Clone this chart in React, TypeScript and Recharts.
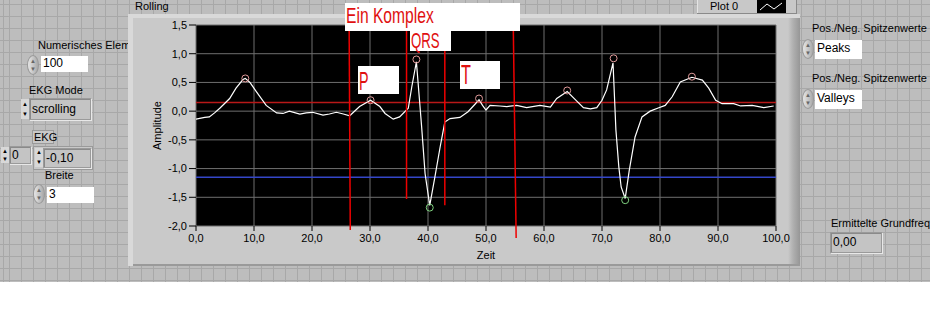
import React from "react"
import { ComposedChart, Line, Scatter, XAxis, YAxis, CartesianGrid, ReferenceLine } from "recharts"

// EKG-Signal (Zeit / Amplitude)
const zeit = [
  0, 1.5, 2.3, 3.2, 4.1, 5.8, 6.9, 8.1, 8.5, 9.3, 10.4, 12.1, 13.9, 15.0, 16.1, 17.9, 19.0, 20.1, 21.9, 23.0,
  24.2, 25.4, 26.5, 28.2, 30.1, 31.7, 32.6, 34.0, 35.1, 36.6, 37.2, 38.0, 38.9, 39.5, 40.3, 41.2, 42.1, 42.9,
  43.8, 45.5, 46.9, 48.1, 48.8, 49.4, 50.0, 50.7, 52.4, 53.6, 55.3, 57.0, 59.3, 61.1, 62.2, 64.0, 65.7, 66.8,
  68.0, 69.1, 70.0, 70.8, 71.9, 72.4, 72.9, 73.3, 74.0, 74.7, 75.7, 76.9, 78.3, 79.8, 80.9, 82.1, 83.5, 85.5,
  87.3, 88.4, 89.6, 90.7, 92.7, 93.9, 95.9, 97.9, 99.6,
]
const amplitude = [
  -0.14, -0.11, -0.1, -0.03, 0.05, 0.22, 0.4, 0.55, 0.57, 0.5, 0.34, 0.1, -0.03, -0.04, 0.0, -0.05, -0.03, -0.02,
  -0.07, -0.05, -0.02, -0.05, -0.08, 0.08, 0.19, 0.08, -0.04, -0.14, -0.1, 0.05, 0.42, 0.86, -0.27, -1.09, -1.64,
  -1.14, -0.62, -0.19, -0.13, -0.11, -0.01, 0.12, 0.2, 0.1, 0.02, 0.1, 0.09, 0.08, 0.1, 0.06, 0.1, 0.07, 0.22,
  0.34, 0.17, 0.06, 0.04, 0.06, 0.19, 0.37, 0.84, -0.33, -0.97, -1.32, -1.52, -1.03, -0.45, -0.1, 0.0, 0.06, 0.1,
  0.25, 0.51, 0.59, 0.54, 0.4, 0.19, 0.13, 0.13, 0.09, 0.1, 0.06, 0.09,
]

// Spitzenwerte
const peakZeit = [8.5, 30.1, 38.0, 48.8, 64.0, 72.0, 85.5]
const peakWerte = [0.57, 0.19, 0.9, 0.22, 0.36, 0.92, 0.6]
const valleyZeit = [40.3, 74.0]
const valleyWerte = [-1.68, -1.55]

const xTicks = [0, 10, 20, 30, 40, 50, 60, 70, 80, 90, 100]
const yTicks = [-2, -1.5, -1, -0.5, 0, 0.5, 1, 1.5]

const schwellePeaks = 0.15
const schwelleValleys = -1.15

// handgezeichnete Markierungen des Komplexes
const komplexOben = [26.4, 36.3, 42.9, 54.7]
const komplexUnten = [26.6, 36.3, 42.9, 55.2]
const komplexEnde = [-2.07, -1.53, -1.64, -2.21]

const curve = zeit.map((x, i) => ({ x, y: amplitude[i] }))
const peaks = peakZeit.map((x, i) => ({ x, y: peakWerte[i] }))
const valleys = valleyZeit.map((x, i) => ({ x, y: valleyWerte[i] }))

const fmt = (v: number) => v.toFixed(1).replace(".", ",")
const font = "'Liberation Sans', Arial, sans-serif"
const red = "#e01010"

const grid = {
  background:
    "repeating-linear-gradient(to right, #a8a8a8 0 1px, transparent 1px 12px), repeating-linear-gradient(to bottom, #a8a8a8 0 1px, transparent 1px 12px), #bdbdbd",
  backgroundPosition: "9px 4px",
}

function Label({ x, y, children }: any) {
  return <div style={{ position: "absolute", left: x, top: y, fontSize: 11, lineHeight: "12px", whiteSpace: "nowrap" }}>{children}</div>
}

function Spinner({ x, y }: any) {
  return (
    <div style={{ position: "absolute", left: x, top: y, width: 12, height: 20, borderRadius: "50%", background: "linear-gradient(to right, #e6e6e6, #a8a8a8)", border: "1px solid #9a9a9a", boxSizing: "border-box", fontSize: 6, lineHeight: "8px", textAlign: "center", color: "#666" }}>
      <div style={{ marginTop: 1 }}>▲</div>
      <div>▼</div>
    </div>
  )
}

function Arrows({ x, y, h }: any) {
  return (
    <div style={{ position: "absolute", left: x, top: y, width: 8, height: h, background: "#d8d8d8", fontSize: 6, lineHeight: `${h / 2}px`, textAlign: "center", color: "#000" }}>
      <div>▲</div>
      <div>▼</div>
    </div>
  )
}

function Box({ x, y, w, h, text, white }: any) {
  return (
    <div style={{ position: "absolute", left: x, top: y, width: w, height: h, background: white ? "#fff" : "#c4c4c4", boxShadow: white ? "none" : "inset 1px 1px 0 #8a8a8a, 1px 1px 0 #e8e8e8", border: white ? "none" : "1px solid #9a9a9a", boxSizing: "border-box", fontSize: 12, lineHeight: `${h - 2}px`, paddingLeft: 2, whiteSpace: "nowrap" }}>
      {text}
    </div>
  )
}

function PeakDot(props: any) {
  return <circle cx={props.cx} cy={props.cy} r={3.5} fill="none" stroke="#e09a9a" strokeWidth={1} />
}

function ValleyDot(props: any) {
  return <circle cx={props.cx} cy={props.cy} r={3.5} fill="none" stroke="#7fd07f" strokeWidth={1} />
}

function AmpLabel({ viewBox }: any) {
  const cx = viewBox.x + 29
  const cy = viewBox.y + viewBox.height / 2
  return (
    <text x={cx} y={cy} transform={`rotate(-90, ${cx}, ${cy})`} textAnchor="middle" dominantBaseline="central" fontSize={11} fontFamily={font} fill="#000">
      Amplitude
    </text>
  )
}

function ZeitLabel({ viewBox }: any) {
  return (
    <text x={viewBox.x + viewBox.width / 2} y={viewBox.y + 29} textAnchor="middle" dominantBaseline="central" fontSize={11} fontFamily={font} fill="#000">
      Zeit
    </text>
  )
}

function Annot({ x, y, w, h, text, size, sx, ty }: any) {
  return (
    <>
      <div style={{ position: "absolute", left: x, top: y, width: w, height: h, background: "#fff" }} />
      <div style={{ position: "absolute", left: x + 1, top: y + ty, fontSize: size, lineHeight: 0.8, color: red, fontFamily: font, transform: `scaleX(${sx})`, transformOrigin: "left", whiteSpace: "nowrap" }}>
        {text}
      </div>
    </>
  )
}

export default function App() {
  return (
    <div style={{ position: "absolute", left: 0, top: 0, width: 930, height: 330, background: "#fff", fontFamily: font, overflow: "hidden" }}>
      <div style={{ position: "absolute", left: 0, top: 0, width: 930, height: 282, ...grid }} />

      {/* linke Bedienelemente */}
      <Label x={38} y={39}>Numerisches Element</Label>
      <Spinner x={27} y={55} />
      <Box x={41} y={56} w={47} h={16} text="100" white />
      <Label x={29} y={84}>EKG Mode</Label>
      <Arrows x={21} y={99} h={20} />
      <Box x={29} y={98} w={62} h={22} text="scrolling" />
      <div style={{ position: "absolute", left: 32, top: 130, width: 22, height: 14, border: "1px solid #9a9a9a", background: "#c8c8c8", boxSizing: "border-box", fontSize: 11, lineHeight: "12px", paddingLeft: 1 }}>EKG</div>
      <Arrows x={1} y={147} h={16} />
      <Box x={9} y={146} w={22} h={18} text="0" />
      <div style={{ position: "absolute", left: 33, top: 146, width: 60, height: 24, background: "#c8c8c8", border: "1px solid #9a9a9a", boxSizing: "border-box" }} />
      <Arrows x={35} y={148} h={19} />
      <Box x={43} y={148} w={48} h={20} text="-0,10" />
      <Label x={45} y={169}>Breite</Label>
      <Spinner x={33} y={184} />
      <Box x={47} y={187} w={47} h={16} text="3" white />

      <Label x={135} y={0}>Rolling</Label>

      {/* Graph */}
      <div style={{ position: "absolute", left: 128, top: 14, width: 672, height: 252, background: "linear-gradient(to right, #c9c9c9 0, #c9c9c9 660px, #b0b0b0 665px, #969696 672px)", boxShadow: "inset 5px 4px 0 #d9d9d9, inset 0 -2px 0 #9a9a9a" }}>
        <ComposedChart width={672} height={252} margin={{ top: 11, right: 24, bottom: 0, left: 0 }}>
          <CartesianGrid stroke="#6f6f6f" fill="#000" fillOpacity={1} horizontalValues={yTicks} verticalValues={xTicks} />
          <XAxis
            dataKey="x"
            type="number"
            domain={[0, 100]}
            ticks={xTicks}
            tickFormatter={fmt}
            height={40}
            axisLine={false}
            tickSize={5}
            tickMargin={3}
            tickLine={{ stroke: "#000" }}
            tick={{ fontSize: 11, fill: "#000", fontFamily: font }}
            interval={0}
            allowDataOverflow
            label={<ZeitLabel />}
          />
          <YAxis
            type="number"
            domain={[-2, 1.5]}
            ticks={yTicks}
            tickFormatter={fmt}
            width={68}
            axisLine={false}
            tickSize={7}
            tickMargin={2}
            tickLine={{ stroke: "#000" }}
            tick={{ fontSize: 11, fill: "#000", fontFamily: font }}
            interval={0}
            allowDataOverflow
            label={<AmpLabel />}
          />
          <ReferenceLine y={schwellePeaks} stroke="#b81818" strokeWidth={1.5} />
          <ReferenceLine y={schwelleValleys} stroke="#3446c8" strokeWidth={1.5} />
          <Line data={curve} dataKey="y" type="linear" stroke="#ffffff" strokeWidth={1.2} dot={false} isAnimationActive={false} />
          <Scatter data={peaks} dataKey="y" shape={<PeakDot />} isAnimationActive={false} />
          <Scatter data={valleys} dataKey="y" shape={<ValleyDot />} isAnimationActive={false} />
          {komplexOben.map((x, i) => (
            <ReferenceLine
              key={i}
              segment={[
                { x, y: 1.5 },
                { x: komplexUnten[i], y: komplexEnde[i] },
              ]}
              stroke="#ee0000"
              strokeWidth={1.5}
              ifOverflow="visible"
            />
          ))}
        </ComposedChart>
      </div>

      {/* Legende */}
      <div style={{ position: "absolute", left: 697, top: -2, width: 100, height: 16, background: "#c8c8c8", boxShadow: "inset -1px -1px 0 #8a8a8a, inset 1px 0 0 #e4e4e4" }}>
        <div style={{ position: "absolute", left: 13, top: 2, fontSize: 11, lineHeight: "12px" }}>Plot 0</div>
        <svg style={{ position: "absolute", left: 60, top: 2 }} width={29} height={13}>
          <rect width={29} height={13} fill="#000" />
          <polyline points="3,10 10,4 17,9 25,3" fill="none" stroke="#fff" strokeWidth={1} />
        </svg>
      </div>

      {/* Annotationen */}
      <Annot x={345} y={3} w={175} h={28} text="Ein Komplex" size={22} sx={0.71} ty={4.3} />
      <Annot x={410} y={30} w={41} h={21} text="QRS" size={22} sx={0.6} ty={1.5} />
      <Annot x={358} y={66} w={41} h={28} text="P" size={26} sx={0.55} ty={4.6} />
      <Annot x={460} y={61} w={40} h={28} text="T" size={27} sx={0.6} ty={3.7} />

      {/* rechte Bedienelemente */}
      <Label x={812} y={22}>Pos./Neg. Spitzenwerte</Label>
      <Spinner x={802} y={39} />
      <Box x={815} y={40} w={47} h={19} text="Peaks" white />
      <Label x={812} y={72}>Pos./Neg. Spitzenwerte</Label>
      <Spinner x={802} y={89} />
      <Box x={815} y={90} w={47} h={19} text="Valleys" white />
      <Label x={831} y={217}>Ermittelte Grundfreq</Label>
      <Box x={830} y={232} w={52} h={21} text="0,00" />
    </div>
  )
}
